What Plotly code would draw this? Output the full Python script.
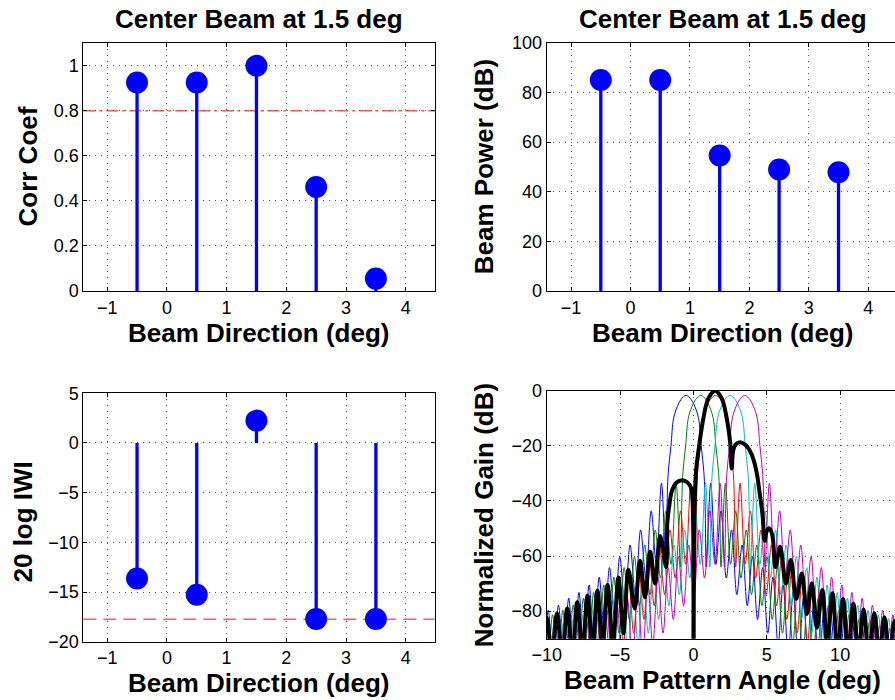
import plotly.graph_objects as go

# ---------------- data ----------------
beam_dirs = [-0.5, 0.5, 1.5, 2.5, 3.5]
corr_coef = [0.926, 0.926, 1.0, 0.462, 0.055]
beam_power_db = [85.0, 85.0, 54.6, 48.9, 47.8]
weight_db = [-13.63, -15.27, 2.25, -17.72, -17.72]
corr_threshold = 0.8
weight_floor_db = -17.75

# conventional beam pattern (offset from each beam's steering direction)
pattern_offset_deg = [-14.65, -14.30, -13.95, -13.60, -13.25, -12.90, -12.55, -12.20, -11.85, -11.50,
                      -11.15, -10.80, -10.45, -10.10, -9.75, -9.40, -9.05, -8.70, -8.35, -8.00,
                      -7.65, -7.30, -6.96, -6.61, -6.27, -5.92, -5.57, -5.22, -4.87, -4.52,
                      -4.17, -3.82, -3.46, -3.10, -2.74, -2.38, -2.03, -1.68,
                      -1.38, -1.30, -1.22, -1.03, -0.85, -0.60, -0.35, 0.0,
                      0.35, 0.60, 0.85, 1.03, 1.22, 1.30, 1.38,
                      1.68, 2.03, 2.38, 2.74, 3.10, 3.46, 3.82, 4.17,
                      4.52, 4.87, 5.22, 5.57, 5.92, 6.27, 6.61, 6.96, 7.30, 7.65,
                      8.00, 8.35, 8.70, 9.05, 9.40, 9.75, 10.10, 10.45, 10.80, 11.15,
                      11.50, 11.85, 12.20, 12.55, 12.90, 13.25, 13.60, 13.95, 14.30, 14.65]
pattern_gain_db = [-100, -88.3, -100, -87.3, -100, -86.3, -100, -85.2, -100, -84.0,
                   -100, -82.7, -100, -81.3, -100, -79.7, -100, -77.8, -99, -75.3,
                   -98, -73.2, -96, -70.5, -92, -67.7, -88, -64.2, -83, -60.2,
                   -78, -56.0, -74, -50.5, -68, -43.6, -63, -33.6,
                   -64, -42, -30, -20, -10, -5.8, -3.2, -1.7,
                   -3.2, -5.8, -10, -20, -30, -42, -64,
                   -33.6, -63, -43.6, -68, -50.5, -74, -56.0, -78,
                   -60.2, -83, -64.2, -88, -67.7, -92, -70.5, -96, -73.2, -98,
                   -75.3, -99, -77.8, -100, -79.7, -100, -81.3, -100, -82.7, -100,
                   -84.0, -100, -85.2, -100, -86.3, -100, -87.3, -100, -88.3, -100]

# adaptive (combined) beam pattern
adaptive_angle_deg = [-10.35, -10.0, -9.65, -9.3, -8.95, -8.6, -8.26, -7.92, -7.57, -7.22,
                      -6.88, -6.54, -6.2, -5.85, -5.48, -5.11, -4.77, -4.43, -4.0, -3.64,
                      -3.3, -2.95, -2.61, -2.27, -1.86, -1.78, -1.65, -1.48, -1.15, -0.75,
                      -0.4, -0.18, -0.06, 0.0, 0.07, 0.18, 0.34, 0.68, 1.02, 1.48,
                      1.93, 2.27, 2.5, 2.61, 2.72, 2.9, 3.18, 3.5, 3.75, 4.0,
                      4.2, 4.37, 4.5, 4.63, 4.73, 4.86, 5.0, 5.18, 5.38, 5.6,
                      5.91, 6.3, 6.64, 7.0, 7.39, 7.73, 8.07, 8.42, 8.78, 9.12,
                      9.48, 9.83, 10.2, 10.55, 10.9, 11.25, 11.6, 11.97, 12.33, 12.68,
                      13.02, 13.37, 13.72, 14.07]
adaptive_gain_db = [-96, -82.3, -96, -80.8, -96, -79.0, -96, -76.8, -95, -74.4,
                    -94, -72.6, -93, -70.5, -92, -67.8, -88, -65.0, -79, -61.7,
                    -75, -58.4, -70, -52.7, -64, -48, -42, -36.6, -33.3, -32.5,
                    -33.3, -35.0, -40, -110, -45, -29, -22, -10, -2.8, 0,
                    -2.8, -10, -18.5, -28.2, -21.5, -19.4, -18.7, -19.5, -20.9, -23.5,
                    -27, -31.5, -36.6, -41.5, -46.3, -54.5, -51, -49.9, -52.5, -64,
                    -56.6, -70, -61.4, -75.5, -66.3, -81, -69.9, -86, -72.3, -92,
                    -73.5, -95, -75.6, -96, -77.3, -96, -79.4, -96, -80.8, -96,
                    -82.2, -96, -83.4, -96]

assert len(pattern_offset_deg) == len(pattern_gain_db)
assert len(adaptive_angle_deg) == len(adaptive_gain_db)

# ---------------- styles ----------------
beam_colors = ["rgb(0,0,255)", "rgb(0,128,0)", "rgb(255,0,0)", "rgb(0,191,191)", "rgb(191,0,191)"]
STEM = "rgb(0,0,255)"
REF_RED = "rgb(245,95,95)"
FONT = "Liberation Sans, Arial, Helvetica, sans-serif"

W, H = 895, 700


def xd(a, b):
    return [a / W, min(b / W, 1.0)]


def yd(top, bottom):
    return [1 - bottom / H, 1 - top / H]


fig = go.Figure()


def add_stems(xs, vals, base, xa, ya):
    sx, sy = [], []
    for xi, v in zip(xs, vals):
        sx += [xi, xi, None]
        sy += [base, v, None]
    fig.add_trace(go.Scatter(x=sx, y=sy, mode="lines", line=dict(color=STEM, width=3.3),
                             xaxis=xa, yaxis=ya, hoverinfo="skip"))
    fig.add_trace(go.Scatter(x=xs, y=vals, mode="markers",
                             marker=dict(color=STEM, size=22, line=dict(width=0)),
                             xaxis=xa, yaxis=ya))


add_stems(beam_dirs, corr_coef, 0, "x", "y")
add_stems(beam_dirs, beam_power_db, 0, "x2", "y2")
add_stems(beam_dirs, weight_db, 0, "x3", "y3")

for center, col in zip(beam_dirs, beam_colors):
    fig.add_trace(go.Scatter(x=[center + o for o in pattern_offset_deg], y=pattern_gain_db,
                             mode="lines", line=dict(color=col, width=1, shape="spline"),
                             xaxis="x4", yaxis="y4"))
fig.add_trace(go.Scatter(x=adaptive_angle_deg, y=adaptive_gain_db, mode="lines",
                         line=dict(color="black", width=4, shape="spline"),
                         xaxis="x4", yaxis="y4"))

# reference lines
fig.add_shape(type="line", xref="x domain", yref="y", x0=0, x1=1, y0=corr_threshold, y1=corr_threshold,
              line=dict(color=REF_RED, width=1.5, dash="12px,4px,3px,4px"), layer="below")
fig.add_shape(type="line", xref="x3 domain", yref="y3", x0=0, x1=1, y0=weight_floor_db, y1=weight_floor_db,
              line=dict(color=REF_RED, width=1.5, dash="13px,7px"), layer="below")

axis_common = dict(showline=True, linecolor="black", linewidth=1, ticks="inside", ticklen=4,
                   tickcolor="black", showgrid=True, gridcolor="#555555", griddash="1px,5px",
                   gridwidth=1, zeroline=False, automargin=False,
                   tickfont=dict(family=FONT, size=18, color="black"))

L1, R1 = 83.3, 435.0
L2, R2 = 546.7, 895.0

fig.update_layout(
    width=W, height=H, margin=dict(l=0, r=0, t=0, b=0, pad=0, autoexpand=False),
    paper_bgcolor="white", plot_bgcolor="white", showlegend=False,
    font=dict(family=FONT, color="black"),
    xaxis=dict(domain=xd(L1, R1), range=[-1.4, 4.49], dtick=1, tick0=0, anchor="y", mirror="ticks", **axis_common),
    yaxis=dict(domain=yd(43.3, 291.0), range=[0, 1.1], dtick=0.2, tick0=0, anchor="x", mirror="ticks", **axis_common),
    xaxis2=dict(domain=xd(L2, R2), range=[-1.41, 4.45], dtick=1, tick0=0, anchor="y2", mirror="ticks", **axis_common),
    yaxis2=dict(domain=yd(42.7, 291.0), range=[0, 100], dtick=20, tick0=0, anchor="x2", mirror=False, **axis_common),
    xaxis3=dict(domain=xd(L1, R1), range=[-1.4, 4.49], dtick=1, tick0=0, anchor="y3", mirror="ticks", **axis_common),
    yaxis3=dict(domain=yd(393.3, 641.7), range=[-20, 5], dtick=5, tick0=0, anchor="x3", mirror="ticks", **axis_common),
    xaxis4=dict(domain=xd(L2, R2), range=[-10, 13.74], dtick=5, tick0=0, anchor="y4", mirror="ticks", **axis_common),
    yaxis4=dict(domain=yd(390.7, 638.7), range=[-90, 0], dtick=20, tick0=0, anchor="x4", mirror=False, **axis_common),
)


def ann(text, xpx, ypx, angle=0):
    fig.add_annotation(text="<b>%s</b>" % text, x=xpx / W, y=1 - ypx / H, xref="paper", yref="paper",
                       xanchor="center", yanchor="middle", showarrow=False, textangle=angle,
                       font=dict(family=FONT, size=26, color="black"))


ann("Center Beam at 1.5 deg", 259.2, 19.2)
ann("Center Beam at 1.5 deg", 722.5, 18.5)
ann("Beam Direction (deg)", 259.2, 333.4)
ann("Beam Direction (deg)", 722.5, 333.4)
ann("Beam Direction (deg)", 258.5, 683.3)
ann("Beam Pattern Angle (deg)", 722.5, 680.0)
ann("Corr Coef", 27.8, 166.7, -90)
ann("Beam Power (dB)", 483.5, 166.7, -90)
ann("20 log IWI", 22.5, 522.0, -90)
ann("Normalized Gain (dB)", 483.5, 514.7, -90)

fig.write_html("out.html", config={"displayModeBar": False},
               post_script="document.body.style.margin='0';document.body.style.overflow='hidden';")
